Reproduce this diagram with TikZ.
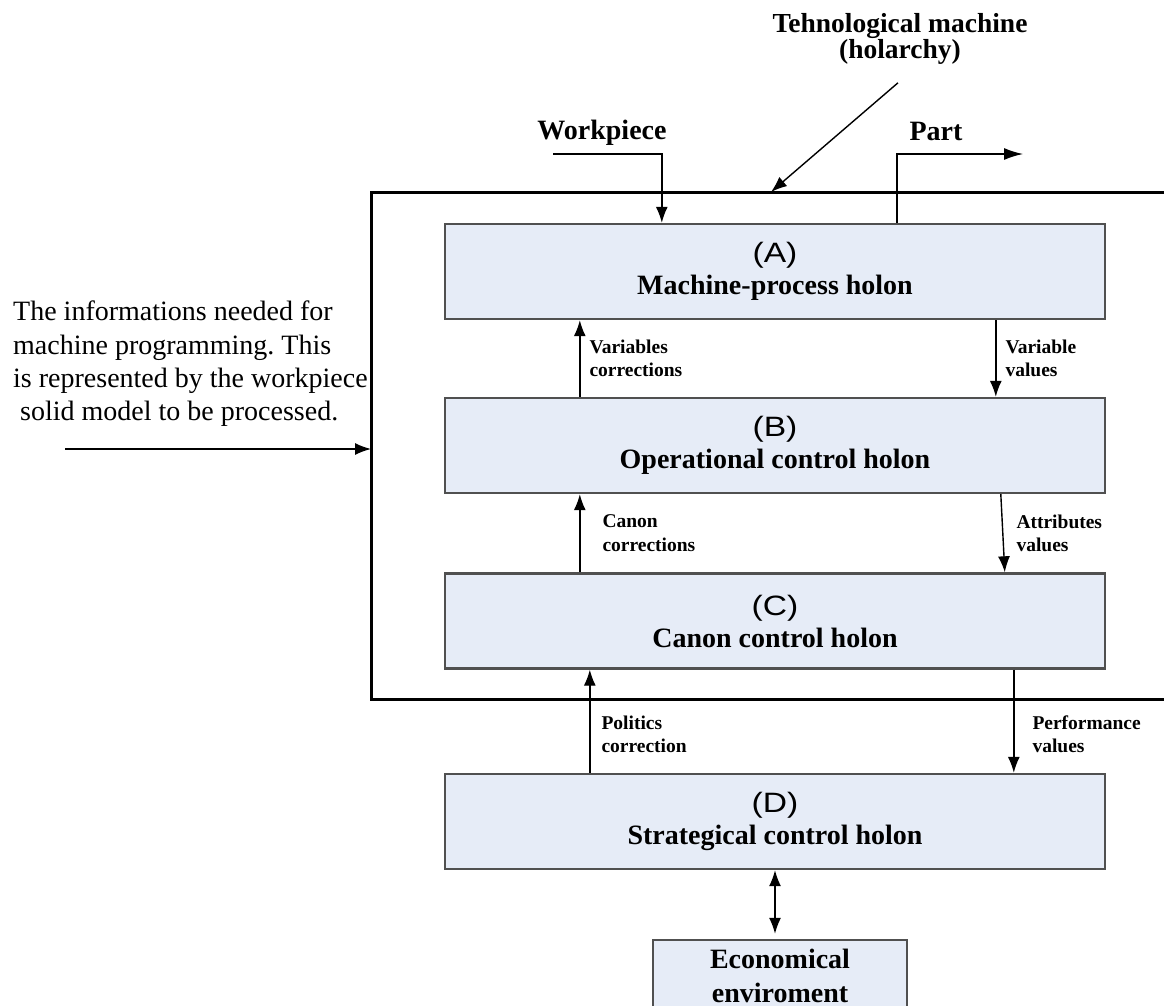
\documentclass[tikz,border=0pt]{standalone}
\usepackage{fontspec}
\setmainfont{Liberation Serif}
\newfontfamily\tagfont[FakeStretch=1.2]{Liberation Sans}
\usetikzlibrary{arrows.meta}
\definecolor{holonfill}{RGB}{230,236,247}
\definecolor{holonline}{RGB}{80,80,80}
\frenchspacing

\begin{document}
\begin{tikzpicture}[x=1pt, y=-1pt,
    holon/.style={draw=holonline, line width=2.4pt, fill=holonfill, minimum width=660pt, minimum height=95pt, inner sep=0pt, align=center, font=\fontsize{28}{32}\selectfont},
    lbl/.style={inner sep=0pt, align=left, font=\fontsize{19.5}{23.5}\selectfont\bfseries},
    big/.style={inner sep=0pt, align=center, font=\fontsize{28}{33}\selectfont\bfseries},
    arr/.style={line width=1.4pt, -{Latex[length=16pt,width=12pt]}}]

    \useasboundingbox (0,0) rectangle (1164,1006);

    % the four holons
    \node[holon] (boxA) at (775,271.5) {{\tagfont (A)}\\\textbf{Machine-process holon}};
    \node[holon] (boxB) at (775,445.5) {{\tagfont (B)}\\\textbf{Operational control holon}};
    \node[holon] (boxC) at (775,621) {{\tagfont (C)}\\\textbf{Canon control holon}};
    \node[holon] (boxD) at (775,821.5) {{\tagfont (D)}\\\textbf{Strategical control holon}};
    \node[holon, minimum width=254pt, minimum height=80pt, text depth=9pt, font=\fontsize{28}{34}\selectfont\bfseries] (econ) at (780,980) {Economical\\enviroment};

    % machine frame
    \coordinate (fne) at (1164,192);
    \coordinate (fnw) at (371,192);
    \coordinate (fsw) at (371,699);
    \coordinate (fse) at (1164,699);
    \draw[line width=3pt] (fne) -- (fnw) -- (fsw) -- (fse);

    \node[big, font=\fontsize{27.5}{25}\selectfont\bfseries] (tm) at (900,39) {Tehnological machine\\(holarchy)};
    \coordinate (tmtip) at (771,192);
    \draw[arr] ([xshift=-2pt,yshift=-18pt]tm.south) -- (tmtip);

    \node[big] (wp) at (602,133) {Workpiece};
    \coordinate (wpin) at (553,154);
    \draw[arr] (wpin) -| ([xshift=218pt]boxA.north west);

    \node[big] (part) at (936,131) {Part};
    \coordinate (partout) at (1023,154);
    \draw[arr, -{Latex[length=19pt,width=12pt]}] ([xshift=453pt]boxA.north west) |- (partout);

    \node[anchor=north west, inner sep=0pt, align=left, font=\fontsize{28}{33.3}\selectfont] (info) at (13,301) {The informations needed for\\machine programming. This\\is represented by the workpiece\\\hspace*{7pt}solid model to be processed.};
    \coordinate (infoin) at (65,449);
    \draw[arr] (infoin) -- (infoin -| fnw);

    % feedback between levels
    \draw[arr] ([xshift=136pt]boxB.north west) -- ([xshift=136pt]boxA.south west) node[lbl, midway, right=9pt] {Variables\\corrections};
    \draw[arr] ([xshift=552pt]boxA.south west) -- ([xshift=552pt]boxB.north west) node[lbl, midway, right=9pt] {Variable\\values};
    \draw[arr] ([xshift=136pt]boxC.north west) -- ([xshift=136pt]boxB.south west) node[lbl, midway, right=22pt] {Canon\\corrections};
    \draw[arr] ([xshift=557pt]boxB.south west) -- ([xshift=561pt]boxC.north west) node[lbl, midway, right=13pt] {Attributes\\values};
    \draw[arr] ([xshift=146pt]boxD.north west) -- ([xshift=146pt]boxC.south west) node[lbl, midway, right=11pt, yshift=-13pt] {Politics\\correction};
    \draw[arr] ([xshift=570pt]boxC.south west) -- ([xshift=570pt]boxD.north west) node[lbl, midway, right=18pt, yshift=-13pt] {Performance\\values};

    \draw[arr, {Latex[length=16pt,width=12pt]}-{Latex[length=16pt,width=12pt]}, shorten >=5pt] (boxD.south) -- (boxD.south |- econ.north);

\end{tikzpicture}
\end{document}
